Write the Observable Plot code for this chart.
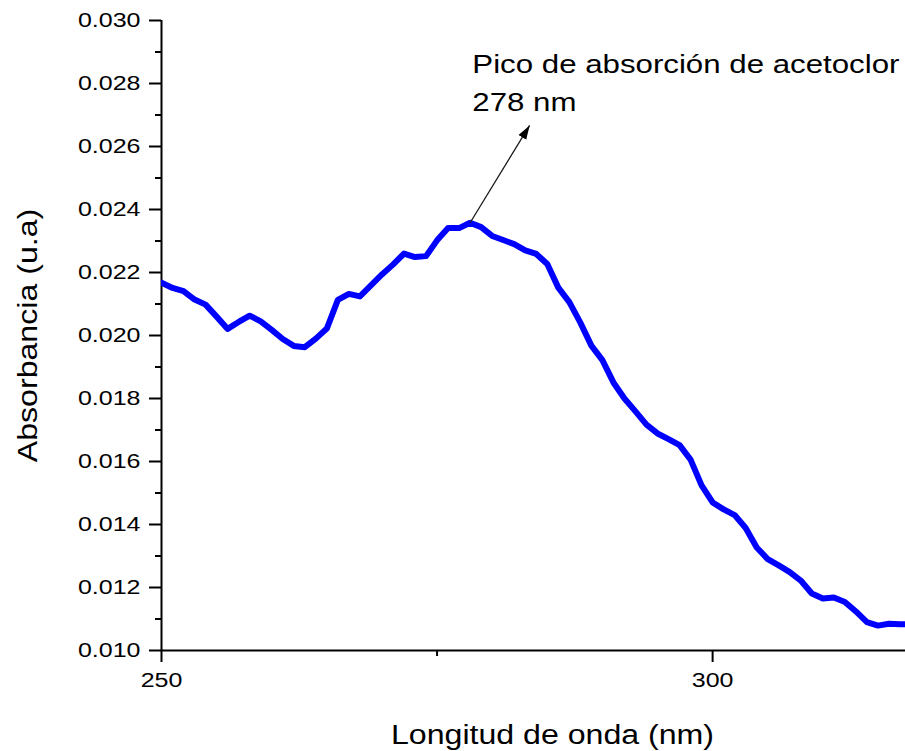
<!DOCTYPE html>
<html>
<head>
<meta charset="utf-8">
<script src="https://cdn.jsdelivr.net/npm/d3@7"></script>
<script src="https://cdn.jsdelivr.net/npm/@observablehq/plot@0.6"></script>
<style>
  html, body { margin: 0; padding: 0; background: #ffffff; }
  svg { display: block; }
</style>
</head>
<body>
<div id="chart"></div>
<script>
// ---- data ----
const wavelength = [250,251,252,253,254,255,256,257,258,259,260,261,262,263,264,265,266,267,268,269,
  270,271,272,273,274,275,276,277,278,279,280,281,282,283,284,285,286,287,288,289,
  290,291,292,293,294,295,296,297,298,299,300,301,302,303,304,305,306,307,308,309,
  310,311,312,313,314,315,316,317,318];
const absorbance = [0.02168,0.02151,0.02141,0.02114,0.02098,0.02060,0.02021,0.02043,0.02063,0.02045,
  0.02018,0.01989,0.01967,0.01963,0.01990,0.02022,0.02113,0.02132,0.02124,0.02159,
  0.02194,0.02225,0.02260,0.02249,0.02252,0.02302,0.02341,0.02341,0.02358,0.02344,
  0.02316,0.02303,0.02290,0.02270,0.02259,0.02227,0.02152,0.02106,0.02041,0.01968,
  0.01922,0.01851,0.01800,0.01759,0.01717,0.01689,0.01671,0.01652,0.01606,0.01524,
  0.01470,0.01448,0.01430,0.01389,0.01327,0.01290,0.01270,0.01249,0.01222,0.01181,
  0.01165,0.01168,0.01154,0.01124,0.01090,0.01079,0.01085,0.01083,0.01083];

const xDomain = [250, 317.5];
const yDomain = [0.010, 0.030];
const xMajorTicks = [250, 300];
const xMinorTicks = [275];
const yMajorTicks = [0.010, 0.012, 0.014, 0.016, 0.018, 0.020, 0.022, 0.024, 0.026, 0.028, 0.030];
const yMinorTicks = [0.011, 0.013, 0.015, 0.017, 0.019, 0.021, 0.023, 0.025, 0.027, 0.029];

const xLabel = "Longitud de onda (nm)";
const yLabel = "Absorbancia (u.a)";
const annotationText = "Pico de absorción de acetoclor\n278 nm";
const annotationAnchor = [278.2, 0.02918];
const arrowTip = [283.4, 0.02667];

// ---- build ----
const rows = wavelength.map((w, i) => ({w, a: absorbance[i]}));
const peak = rows.reduce((m, d) => (d.a > m.a ? d : m), rows[0]);

const FONT = "'Liberation Sans', Arial, Helvetica, sans-serif";
const STRETCH = 1.25;        // tick labels and annotation
const TITLE_STRETCH = 1.19;  // axis titles

const chart = Plot.plot({
  width: 905,
  height: 751,
  marginLeft: 161,
  marginRight: 0,
  marginTop: 20,
  marginBottom: 101,
  style: {fontFamily: FONT, fontSize: "20px", color: "#000", background: "#fff"},
  x: {domain: xDomain, axis: null},
  y: {domain: yDomain, axis: null},
  marks: [
    // minor ticks
    Plot.axisX(xMinorTicks, {tickSize: 6, tickFormat: () => "", strokeWidth: 2, label: null}),
    Plot.axisY(yMinorTicks, {tickSize: 6, tickFormat: () => "", strokeWidth: 2, label: null}),
    // major ticks with labels
    Plot.axisX(xMajorTicks, {tickSize: 12, tickPadding: 10, strokeWidth: 2, label: null, fontSize: 20,
      tickFormat: d3.format("d")}),
    Plot.axisY(yMajorTicks, {tickSize: 12, tickPadding: 9, strokeWidth: 2, label: null, fontSize: 20,
      tickFormat: d3.format(".3f")}),
    // axis lines
    Plot.ruleX([xDomain[0]], {stroke: "#000", strokeWidth: 2}),
    Plot.ruleY([yDomain[0]], {stroke: "#000", strokeWidth: 2}),
    // spectrum
    Plot.line(rows, {x: "w", y: "a", stroke: "#0000ff", strokeWidth: 6,
      strokeLinejoin: "round", strokeLinecap: "round", clip: true}),
    // annotation arrow
    Plot.link([peak], {x1: "w", y1: "a", x2: () => arrowTip[0], y2: () => arrowTip[1],
      stroke: "#1a1a1a", strokeWidth: 1.3}),
    Plot.text([annotationText], {x: () => annotationAnchor[0], y: () => annotationAnchor[1],
      text: d => d, textAnchor: "start", lineAnchor: "top", lineHeight: 1.52, fontSize: 25, fill: "#000"}),
    // axis titles
    Plot.text([xLabel], {frameAnchor: "bottom", text: d => d, dx: 19, dy: 85, textAnchor: "middle",
      lineAnchor: "middle", fontSize: 27, fill: "#000"}),
    Plot.text([yLabel], {frameAnchor: "left", text: d => d, dx: -133, rotate: -90, textAnchor: "middle",
      lineAnchor: "middle", fontSize: 27, fill: "#000"})
  ]
});

// Origin-style wide text: stretch every text along its baseline
chart.querySelectorAll("text").forEach(t => {
  const tr = t.getAttribute("transform") || "";
  const isTitle = t.textContent === xLabel || t.textContent === yLabel;
  const s = isTitle ? TITLE_STRETCH : STRETCH;
  t.setAttribute("transform", `${tr} scale(${s},1)`.trim());
});

// filled arrow head on the annotation link
const NS = "http://www.w3.org/2000/svg";
const defs = document.createElementNS(NS, "defs");
const marker = document.createElementNS(NS, "marker");
marker.setAttribute("id", "filledArrowHead");
marker.setAttribute("viewBox", "0 -5 14 10");
marker.setAttribute("refX", "14");
marker.setAttribute("refY", "0");
marker.setAttribute("markerUnits", "userSpaceOnUse");
marker.setAttribute("markerWidth", "14");
marker.setAttribute("markerHeight", "10");
marker.setAttribute("orient", "auto");
const head = document.createElementNS(NS, "path");
head.setAttribute("d", "M0,-4.5L14,0L0,4.5Z");
head.setAttribute("fill", "#000");
marker.appendChild(head);
defs.appendChild(marker);
chart.insertBefore(defs, chart.firstChild);
const linkPath = chart.querySelector('g[aria-label="link"] path');
if (linkPath) linkPath.setAttribute("marker-end", "url(#filledArrowHead)");

document.getElementById("chart").appendChild(chart);
</script>
</body>
</html>
